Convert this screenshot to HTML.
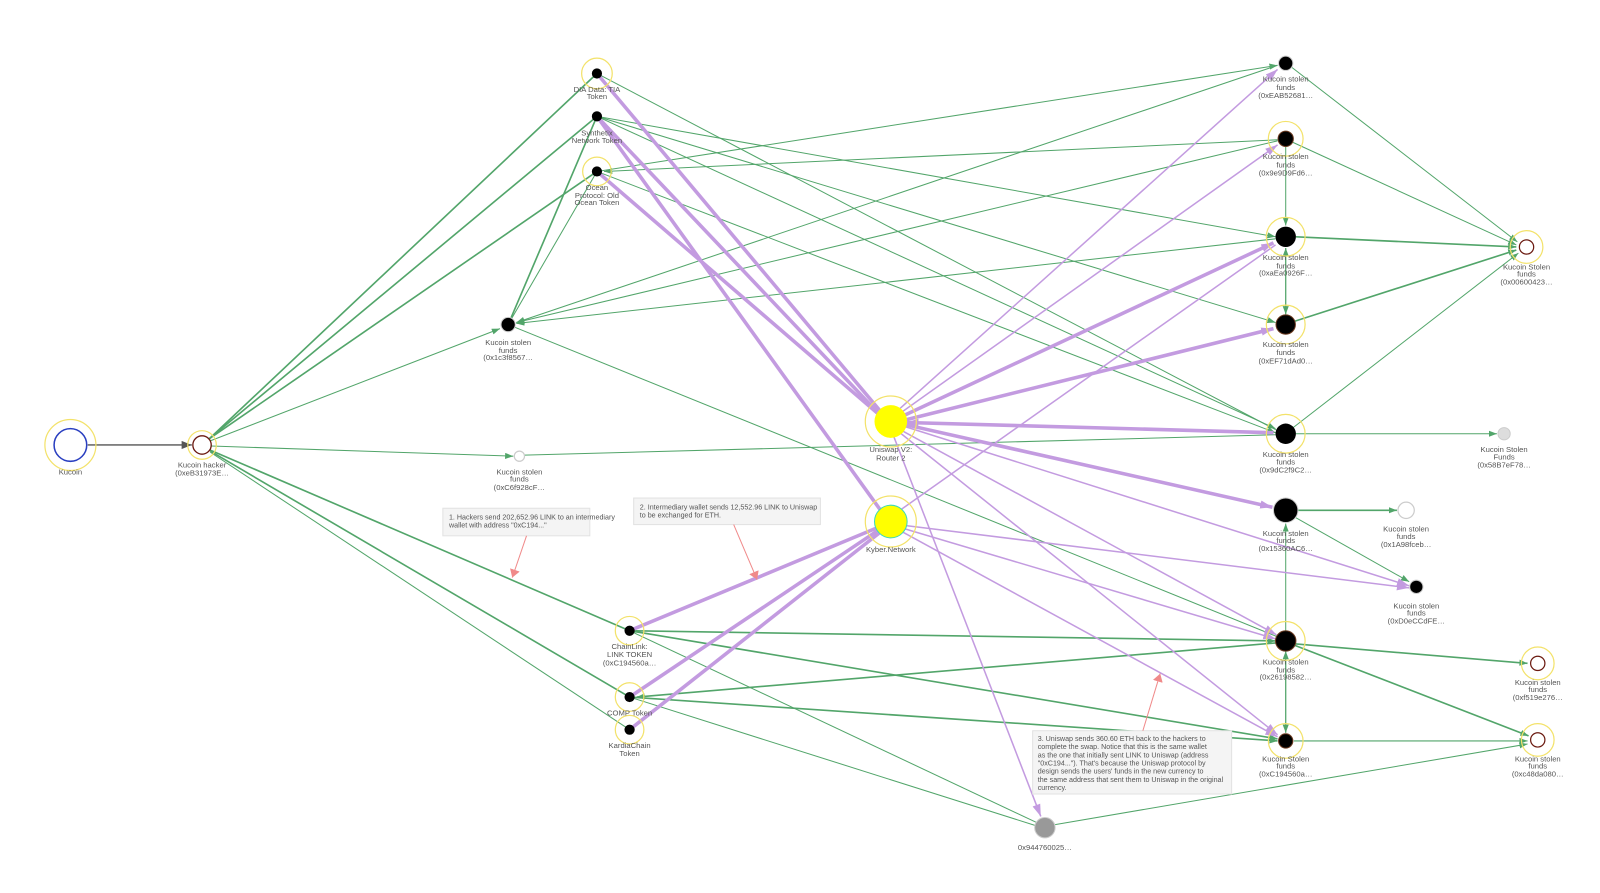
<!DOCTYPE html>
<html><head><meta charset="utf-8"><style>
html,body{margin:0;padding:0;background:#fff;width:1600px;height:893px;overflow:hidden}
svg text{font-family:"Liberation Sans",sans-serif;font-size:7.5px;fill:#555;text-anchor:middle}
.g{stroke:#52a56a;stroke-width:1;fill:none}
.G{stroke:#52a56a;stroke-width:1.6;fill:none}
.p{stroke:#c39be0;stroke-width:1.5;fill:none}
.P{stroke:#c39be0;stroke-width:3.5;fill:none}
.h{fill:none;stroke:#f3e26a;stroke-width:1.2}
.ann{fill:#f4f4f4;stroke:#e2e2e2}
.at{text-anchor:start;font-size:7px;fill:#555}
</style></head><body>
<svg width="1600" height="893" viewBox="0 0 1568 875" preserveAspectRatio="none">
<defs>
<marker id="ag" markerWidth="8" markerHeight="6" refX="8" refY="3" orient="auto" markerUnits="userSpaceOnUse"><path d="M0,0L8,3L0,6z" fill="#52a56a"/></marker>
<marker id="ap" markerWidth="12" markerHeight="8" refX="12" refY="4" orient="auto" markerUnits="userSpaceOnUse"><path d="M0,0L12,4L0,8z" fill="#c39be0"/></marker>
<marker id="ar" markerWidth="8" markerHeight="10" refX="8" refY="5" orient="auto" markerUnits="userSpaceOnUse"><path d="M0,0L8,5L0,10z" fill="#f08a8a"/></marker>
<marker id="ak" markerWidth="10" markerHeight="8" refX="10" refY="4" orient="auto" markerUnits="userSpaceOnUse"><path d="M0,0L10,4L0,8z" fill="#555"/></marker>
</defs>
<line x1="86" y1="436" x2="188" y2="436" stroke="#555" stroke-width="1.3" marker-end="url(#ak)"/>
<g class="g">
<line class="G" x1="205" y1="430" x2="585" y2="72"/>
<line class="G" x1="205" y1="430" x2="585" y2="114"/>
<line class="G" x1="205" y1="430" x2="585" y2="168"/>
<line x1="206" y1="432" x2="490" y2="322" marker-end="url(#ag)"/>
<line x1="207" y1="437" x2="503" y2="447" marker-end="url(#ag)"/>
<line x1="514" y1="446" x2="1250" y2="426"/>
<line class="G" x1="206" y1="441" x2="617" y2="618"/>
<line class="G" x1="206" y1="442" x2="617" y2="683"/>
<line x1="206" y1="443" x2="617" y2="715"/>
<line class="G" x1="498" y1="318" x2="585" y2="114"/>
<line x1="498" y1="318" x2="585" y2="168"/>
<line x1="498" y1="318" x2="1252" y2="624"/>
<line x1="1252" y1="64" x2="506" y2="316" marker-end="url(#ag)"/>
<line x1="1252" y1="138" x2="506" y2="316" marker-end="url(#ag)"/>
<line x1="1250" y1="234" x2="506" y2="317" marker-end="url(#ag)"/>
<line x1="585" y1="72" x2="1252" y2="422"/>
<line x1="585" y1="114" x2="1250" y2="232" marker-end="url(#ag)"/>
<line x1="585" y1="114" x2="1250" y2="316" marker-end="url(#ag)"/>
<line x1="585" y1="114" x2="1250" y2="420" marker-end="url(#ag)"/>
<line x1="585" y1="168" x2="1252" y2="64" marker-end="url(#ag)"/>
<line x1="1252" y1="137" x2="592" y2="168" marker-end="url(#ag)"/>
<line x1="585" y1="168" x2="1250" y2="424" marker-end="url(#ag)"/>
<line x1="1266" y1="66" x2="1487" y2="237" marker-end="url(#ag)"/>
<line x1="1266" y1="139" x2="1486" y2="240" marker-end="url(#ag)"/>
<line class="G" x1="1270" y1="232" x2="1486" y2="242" marker-end="url(#ag)"/>
<line class="G" x1="1268" y1="315" x2="1486" y2="245" marker-end="url(#ag)"/>
<line x1="1266" y1="420" x2="1488" y2="248" marker-end="url(#ag)"/>
<line x1="1260" y1="143" x2="1260" y2="221" marker-end="url(#ag)"/>
<line x1="1260" y1="243" x2="1260" y2="308" marker-end="url(#ag)"/>
<line x1="1260" y1="308" x2="1260" y2="243" marker-end="url(#ag)"/>
<line x1="1270" y1="425" x2="1467" y2="425" marker-end="url(#ag)"/>
<line class="G" x1="1272" y1="500" x2="1369" y2="500" marker-end="url(#ag)"/>
<line x1="1266" y1="505" x2="1381" y2="570" marker-end="url(#ag)"/>
<line x1="1260" y1="618" x2="1260" y2="513" marker-end="url(#ag)"/>
<line x1="1260" y1="638" x2="1260" y2="718" marker-end="url(#ag)"/>
<line x1="1260" y1="718" x2="1260" y2="638" marker-end="url(#ag)"/>
<line class="G" x1="1270" y1="631" x2="1497" y2="650" marker-end="url(#ag)"/>
<line class="G" x1="1268" y1="632" x2="1498" y2="721" marker-end="url(#ag)"/>
<line x1="1268" y1="726" x2="1497" y2="726" marker-end="url(#ag)"/>
<line x1="1034" y1="808" x2="1497" y2="729" marker-end="url(#ag)"/>
<line class="G" x1="617" y1="618" x2="1250" y2="628" marker-end="url(#ag)"/>
<line class="G" x1="617" y1="618" x2="1252" y2="724" marker-end="url(#ag)"/>
<line class="G" x1="1250" y1="630" x2="624" y2="683" marker-end="url(#ag)"/>
<line class="G" x1="617" y1="683" x2="1252" y2="726" marker-end="url(#ag)"/>
<line x1="617" y1="618" x2="1016" y2="806"/>
<line x1="617" y1="683" x2="1015" y2="809"/>
</g>
<g>
<line class="P" x1="585" y1="72" x2="862" y2="402"/>
<line class="P" x1="585" y1="114" x2="860" y2="404"/>
<line class="P" x1="585" y1="114" x2="863" y2="500"/>
<line class="P" x1="585" y1="168" x2="860" y2="405"/>
<line class="p" x1="880" y1="402" x2="1252" y2="68" marker-end="url(#ap)"/>
<line class="p" x1="882" y1="405" x2="1252" y2="142" marker-end="url(#ap)"/>
<line class="P" x1="884" y1="408" x2="1248" y2="238" marker-end="url(#ap)"/>
<line class="P" x1="885" y1="412" x2="1248" y2="322" marker-end="url(#ap)"/>
<line class="P" x1="1248" y1="424" x2="888" y2="414" marker-end="url(#ap)"/>
<line class="P" x1="887" y1="416" x2="1247" y2="497" marker-end="url(#ap)"/>
<line class="p" x1="887" y1="418" x2="1381" y2="574" marker-end="url(#ap)"/>
<line class="p" x1="884" y1="422" x2="1251" y2="622" marker-end="url(#ap)"/>
<line class="p" x1="882" y1="424" x2="1252" y2="720" marker-end="url(#ap)"/>
<line class="p" x1="876" y1="428" x2="1020" y2="800" marker-end="url(#ap)"/>
<line class="p" x1="882" y1="500" x2="1250" y2="240" />
<line class="p" x1="888" y1="515" x2="1381" y2="576" marker-end="url(#ap)"/>
<line class="p" x1="886" y1="518" x2="1250" y2="626" marker-end="url(#ap)"/>
<line class="p" x1="884" y1="521" x2="1252" y2="722" marker-end="url(#ap)"/>
<line class="P" x1="617" y1="618" x2="860" y2="517"/>
<line class="P" x1="617" y1="683" x2="860" y2="520"/>
<line class="P" x1="617" y1="715" x2="862" y2="522"/>
</g>
<rect class="ann" x="434" y="498" width="144" height="27"/>
<text class="at" x="440" y="509">1. Hackers send 202,652.96 LINK to an intermediary</text>
<text class="at" x="440" y="517">wallet with address "0xC194..."</text>
<line x1="516" y1="525" x2="502" y2="566" stroke="#f08a8a" marker-end="url(#ar)"/>
<rect class="ann" x="621" y="488" width="183" height="26"/>
<text class="at" x="627" y="499">2. Intermediary wallet sends 12,552.96 LINK to Uniswap</text>
<text class="at" x="627" y="507">to be exchanged for ETH.</text>
<line x1="719" y1="514" x2="742" y2="568" stroke="#f08a8a" marker-end="url(#ar)"/>
<rect class="ann" x="1012" y="716" width="195" height="62"/>
<text class="at" x="1017" y="726">3. Uniswap sends 360.60 ETH back to the hackers to</text>
<text class="at" x="1017" y="734">complete the swap. Notice that this is the same wallet</text>
<text class="at" x="1017" y="742">as the one that initially sent LINK to Uniswap (address</text>
<text class="at" x="1017" y="750">"0xC194..."). That's because the Uniswap protocol by</text>
<text class="at" x="1017" y="758">design sends the users' funds in the new currency to</text>
<text class="at" x="1017" y="766">the same address that sent them to Uniswap in the original</text>
<text class="at" x="1017" y="774">currency.</text>
<line x1="1120" y1="716" x2="1137" y2="660" stroke="#f08a8a" marker-end="url(#ar)"/>
<circle class="h" cx="69" cy="436" r="25"/><circle cx="69" cy="436" r="16" fill="#fff" stroke="#2a3fc0" stroke-width="1.5"/>
<circle class="h" cx="198" cy="436" r="14"/><circle cx="198" cy="436" r="9" fill="#fff" stroke="#6b1a10" stroke-width="1.3"/>
<circle class="h" cx="585" cy="72" r="15"/><circle cx="585" cy="72" r="5" fill="#000"/>
<circle cx="585" cy="114" r="5" fill="#000"/>
<circle class="h" cx="585" cy="168" r="14"/><circle cx="585" cy="168" r="5" fill="#000"/>
<circle cx="498" cy="318" r="7" fill="#000" stroke="#ccc"/>
<circle cx="509" cy="447" r="5" fill="#fff" stroke="#ccc" stroke-width="1.2"/>
<circle class="h" cx="873" cy="413" r="25"/><circle cx="873" cy="413" r="16" fill="#ffff00"/>
<circle class="h" cx="873" cy="511" r="25"/><circle cx="873" cy="511" r="16" fill="#ffff00" stroke="#3dd9b8" stroke-width="1"/>
<circle class="h" cx="617" cy="618" r="14"/><circle cx="617" cy="618" r="5" fill="#000"/>
<circle class="h" cx="617" cy="683" r="14"/><circle cx="617" cy="683" r="5" fill="#000"/>
<circle class="h" cx="617" cy="715" r="14"/><circle cx="617" cy="715" r="5" fill="#000"/>
<circle cx="1024" cy="811" r="10" fill="#999" stroke="#ccc"/>
<circle cx="1260" cy="62" r="7" fill="#000" stroke="#ccc"/>
<circle class="h" cx="1260" cy="136" r="17"/><circle cx="1260" cy="136" r="7.5" fill="#000" stroke="#6b3a20"/>
<circle class="h" cx="1260" cy="232" r="19"/><circle cx="1260" cy="232" r="10" fill="#000"/>
<circle class="h" cx="1260" cy="318" r="19"/><circle cx="1260" cy="318" r="9.5" fill="#000" stroke="#6b3a20"/>
<circle class="h" cx="1260" cy="425" r="19"/><circle cx="1260" cy="425" r="10" fill="#000"/>
<circle cx="1260" cy="500" r="12" fill="#000" stroke="#ccc"/>
<circle class="h" cx="1260" cy="628" r="19"/><circle cx="1260" cy="628" r="10" fill="#000" stroke="#6b3a20"/>
<circle class="h" cx="1260" cy="726" r="17"/><circle cx="1260" cy="726" r="7" fill="#000" stroke="#6b3a20"/>
<circle class="h" cx="1496" cy="242" r="16"/><circle cx="1496" cy="242" r="7" fill="#fff" stroke="#6b1a10" stroke-width="1.2"/>
<circle cx="1474" cy="425" r="6" fill="#ddd" stroke="#ccc"/>
<circle cx="1378" cy="500" r="8" fill="#fff" stroke="#ccc" stroke-width="1.2"/>
<circle cx="1388" cy="575" r="6.5" fill="#000" stroke="#ccc"/>
<circle class="h" cx="1507" cy="650" r="16"/><circle cx="1507" cy="650" r="7" fill="#fff" stroke="#6b1a10" stroke-width="1.2"/>
<circle class="h" cx="1507" cy="725" r="16"/><circle cx="1507" cy="725" r="7" fill="#fff" stroke="#6b1a10" stroke-width="1.2"/>
<text x="69" y="465">Kucoin</text>
<text x="198" y="458">Kucoin hacker</text><text x="198" y="466">(0xeB31973E…</text>
<text x="585" y="90">DIA Data: TIA</text><text x="585" y="97">Token</text>
<text x="585" y="133">Synthetix</text><text x="585" y="140">Network Token</text>
<text x="585" y="186">Ocean</text><text x="585" y="194">Protocol: Old</text><text x="585" y="201">Ocean Token</text>
<text x="498" y="338">Kucoin stolen</text><text x="498" y="346">funds</text><text x="498" y="353">(0x1c3f8567…</text>
<text x="509" y="465">Kucoin stolen</text><text x="509" y="472">funds</text><text x="509" y="480">(0xC6f928cF…</text>
<text x="873" y="443">Uniswap V2:</text><text x="873" y="451">Router 2</text>
<text x="873" y="541">Kyber.Network</text>
<text x="617" y="636">ChainLink:</text><text x="617" y="644">LINK TOKEN</text><text x="617" y="652">(0xC194560a…</text>
<text x="617" y="701">COMP Token</text>
<text x="617" y="733">KardiaChain</text><text x="617" y="741">Token</text>
<text x="1024" y="833">0x944760025…</text>
<text x="1260" y="80">Kucoin stolen</text><text x="1260" y="88">funds</text><text x="1260" y="96">(0xEAB52681…</text>
<text x="1260" y="156">Kucoin stolen</text><text x="1260" y="164">funds</text><text x="1260" y="172">(0x9e9D9Fd6…</text>
<text x="1260" y="255">Kucoin stolen</text><text x="1260" y="263">funds</text><text x="1260" y="270">(0xaEa0926F…</text>
<text x="1260" y="340">Kucoin stolen</text><text x="1260" y="348">funds</text><text x="1260" y="356">(0xEF71dAd0…</text>
<text x="1260" y="448">Kucoin stolen</text><text x="1260" y="455">funds</text><text x="1260" y="463">(0x9dC2f9C2…</text>
<text x="1260" y="525">Kucoin stolen</text><text x="1260" y="532">funds</text><text x="1260" y="540">(0x15360AC6…</text>
<text x="1260" y="651">Kucoin stolen</text><text x="1260" y="659">funds</text><text x="1260" y="666">(0x26198582…</text>
<text x="1260" y="746">Kucoin Stolen</text><text x="1260" y="753">funds</text><text x="1260" y="761">(0xC194560a…</text>
<text x="1496" y="264">Kucoin Stolen</text><text x="1496" y="271">funds</text><text x="1496" y="279">(0x00600423…</text>
<text x="1474" y="443">Kucoin Stolen</text><text x="1474" y="450">Funds</text><text x="1474" y="458">(0x58B7eF78…</text>
<text x="1378" y="521">Kucoin stolen</text><text x="1378" y="528">funds</text><text x="1378" y="536">(0x1A98fceb…</text>
<text x="1388" y="596">Kucoin stolen</text><text x="1388" y="603">funds</text><text x="1388" y="611">(0xD0eCCdFE…</text>
<text x="1507" y="671">Kucoin stolen</text><text x="1507" y="678">funds</text><text x="1507" y="686">(0xf519e276…</text>
<text x="1507" y="746">Kucoin stolen</text><text x="1507" y="753">funds</text><text x="1507" y="761">(0xc48da080…</text>
</svg>
</body></html>
